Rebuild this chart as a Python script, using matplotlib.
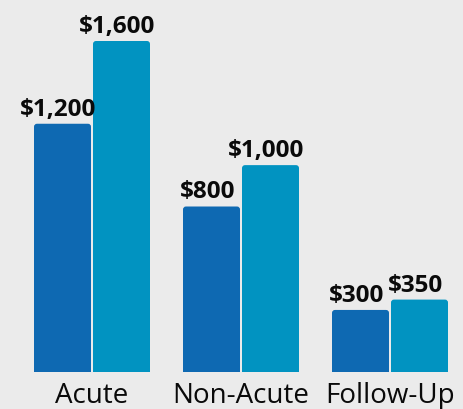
from matplotlib import pyplot as plt
from matplotlib.patches import FancyBboxPatch, Rectangle
import numpy as np

# data
categories = ['Acute', 'Non-Acute', 'Follow-Up']
series_a = [1200, 800, 300]
series_b = [1600, 1000, 350]
colors = ['#0e69b2', '#0193c1']

W, H = 463, 409
fig = plt.figure(figsize=(W / 100, H / 100), dpi=100)
fig.patch.set_facecolor('#ebebeb')

# axes bottom sits on the bar baseline
ax = fig.add_axes([0, 37 / H, 1, 372 / H])
ax.set_facecolor('none')
px_x = 149.0                     # pixels per category
ax.set_xlim(-92 / px_x, (W - 92) / px_x)
ax.set_ylim(0, 1600 * 372 / 331)

x = np.arange(len(categories))
width = 57 / px_x
off = 29.5 / px_x

bars = []
bars += list(ax.bar(x - off, series_a, width, color=colors[0]))
bars += list(ax.bar(x + off, series_b, width, color=colors[1]))

# rounded top corners
unit_y = (1600 * 372 / 331) / 372   # data units per pixel in y
clip = Rectangle((-1, 0), 10, 5000, transform=ax.transData)
for b in bars:
    b.set_visible(False)
    p = FancyBboxPatch((b.get_x(), -40 * unit_y), b.get_width(), b.get_height() + 40 * unit_y,
                       boxstyle='round,pad=0,rounding_size=%f' % (3 / px_x),
                       mutation_aspect=unit_y * px_x,
                       facecolor=b.get_facecolor(), edgecolor='none')
    ax.add_patch(p)
    p.set_clip_path(clip)

# value labels
vals = series_a + series_b
for b, v in zip(bars, vals):
    s = '${:,}'.format(v)
    ax.annotate(s, (b.get_x() + b.get_width() / 2, b.get_height()),
                xytext=(-3, 1.5), textcoords='offset points',
                ha='center', va='bottom', fontsize=17.5, fontweight='bold',
                family='Open Sans', color='#0a0a0a')

ax.set_xticks(x)
ax.set_xticklabels(categories, fontsize=20, family='Open Sans', color='#0a0a0a')
ax.tick_params(axis='x', length=0, pad=7.5)
ax.set_yticks([])
for sp in ax.spines.values():
    sp.set_visible(False)

fig.savefig('out.png', dpi=100, facecolor=fig.get_facecolor())
